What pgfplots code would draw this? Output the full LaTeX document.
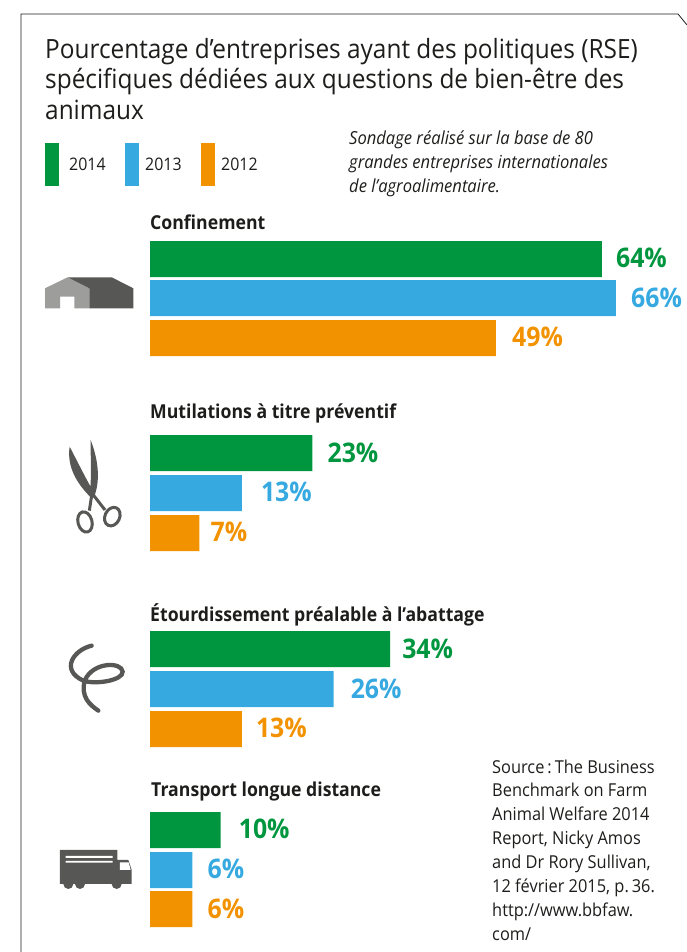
\documentclass[border=0pt]{standalone}
\usepackage{pgfplots}
\pgfplotsset{compat=1.18}
\usepackage{fontspec}
\setmainfont[FakeStretch=0.92]{Open Sans}
\definecolor{cg}{HTML}{00963F}
\definecolor{cb}{HTML}{36A9E1}
\definecolor{co}{HTML}{F39200}
\definecolor{dk}{HTML}{575756}
\definecolor{lt}{HTML}{9D9D9C}
\definecolor{tx}{HTML}{1D1D1B}
\newcommand{\lab}[4]{\node[anchor=base west,inner sep=0pt,text=#4,font=\fontsize{27}{27}\selectfont\bfseries] at (axis cs:#1,#2) [xshift=#3pt] {#1\%};}
\begin{document}
\begin{tikzpicture}[x=1pt,y=1pt]
\begin{axis}[at={(0,0)},anchor=south west,scale only axis,width=687pt,height=952pt,
  xmin=-21.25,xmax=76.06,ymin=0,ymax=952,y dir=reverse,axis lines=none,clip=false,
  xbar,bar shift=0pt,bar width=36pt]
\addplot[draw=none,fill=cg] coordinates {(64,259)(23,453)(34,649)(10,830)};
\addplot[draw=none,fill=cb] coordinates {(66,298)(13,493)(26,689)(6,870)};
\addplot[draw=none,fill=co] coordinates {(49,338)(7,533)(13,729)(6,909)};
\lab{64}{267}{14}{cg}\lab{66}{307}{15}{cb}\lab{49}{346}{16}{co}
\lab{23}{462}{15}{cg}\lab{13}{501}{19}{cb}\lab{7}{541}{11}{co}
\lab{34}{658}{12}{cg}\lab{26}{698}{17}{cb}\lab{13}{737}{14}{co}
\lab{10}{838}{18}{cg}\lab{6}{878}{15}{cb}\lab{6}{918}{15}{co}
\end{axis}
\begin{scope}[shift={(0pt,952pt)},x=1pt,y=-1pt]
\path[use as bounding box] (0,0) rectangle (687,952);
\draw[line width=0.8pt,tx] (21,952) -- (21,14) -- (678,14) -- (687,25);
\def\tl#1#2#3#4{\node[anchor=base west,inner sep=0pt,text=tx,font=\fontsize{#3}{#3}\selectfont] at (#1,#2) {#4};}
\tl{45}{59}{26.5}{Pourcentage d’entreprises ayant des politiques (RSE)}
\tl{45}{88.5}{26.5}{spécifiques dédiées aux questions de bien-être des}
\tl{45}{119.5}{26.5}{animaux}
\fill[cg] (45,143) rectangle (59,186);
\fill[cb] (125,143) rectangle (139,186);
\fill[co] (201,143) rectangle (215,186);
\tl{69}{171}{17.3}{2014}\tl{145}{171}{17.3}{2013}\tl{221}{171}{17.3}{2012}
\tl{349}{144.5}{18}{\itshape Sondage réalisé sur la base de 80}
\tl{349}{168.5}{18}{\itshape grandes entreprises internationales}
\tl{349}{192.5}{18}{\itshape de l’agroalimentaire.}
\tl{150}{229.5}{19.2}{\bfseries Confinement}
\tl{150}{418.5}{19.2}{\bfseries Mutilations à titre préventif}
\tl{150}{622}{19.2}{\bfseries Étourdissement préalable à l’abattage}
\tl{151}{796.5}{19.2}{\bfseries Transport longue distance}
\tl{492}{774}{17.8}{Source\,:\,The Business}
\tl{492}{797}{17.8}{Benchmark on Farm}
\tl{492}{821}{17.8}{Animal Welfare 2014}
\tl{492}{845}{17.8}{Report, Nicky Amos}
\tl{492}{869}{17.8}{and Dr Rory Sullivan,}
\tl{492}{893}{17.8}{12 février 2015, p.\,36.}
\tl{492}{917}{17.8}{http://www.bbfaw.}
\tl{492}{941}{17.8}{com/}
% barn
\fill[lt,even odd rule] (45,308.3) -- (45,288.3) -- (67.7,277.3) -- (89.3,288.3) -- (89.3,308.3) -- (74.3,308.3) -- (74.3,296.7) -- (60,296.7) -- (60,308.3) -- cycle;
\fill[dk] (67.7,277.3) -- (111.7,277.3) -- (133.3,288.3) -- (133.3,308.3) -- (89.3,308.3) -- (89.3,288.3) -- cycle;
\end{scope}
\begin{scope}[shift={(30pt,692pt)},x=0.3333pt,y=-0.3333pt]
% scissors
\fill[dk] (119,560) .. controls (150,620) and (170,660) .. (182,680) .. controls (183,620) and (182,580) .. (182,540) .. controls (205,600) and (212,660) .. (192,712) -- (182,712) .. controls (140,670) and (110,620) .. (119,560) -- cycle;
\draw[dk,line width=3pt] (186,700) -- (178,752) (190,705) -- (225,750);
\draw[dk,line width=3pt,rotate around={15:(165,786)}] (165,786) ellipse (21 and 31);
\draw[dk,line width=3pt,rotate around={-25:(247,770)}] (247,770) ellipse (22 and 29);
\end{scope}
\begin{scope}[shift={(30pt,322pt)},x=0.3333pt,y=-0.3333pt]
% spiral
\draw[dk,line width=4.3pt,line cap=round] (185,47) .. controls (130,60) and (90,120) .. (160,152) .. controls (200,165) and (280,150) .. (278,125) .. controls (275,95) and (190,95) .. (165,150) .. controls (150,200) and (180,225) .. (205,242);
% truck
\fill[dk] (90,660) -- (262,660) -- (262,690) -- (295,690) -- (305,720) -- (305,762) -- (90,762) -- cycle;
\fill[dk] (115,762) circle (15) (150,762) circle (15) (260,762) circle (15);
\fill[white] (107,678) rectangle (248,684) (107,693) rectangle (248,698);
\fill[white] (270,697) -- (296,697) -- (302,720) -- (270,720) -- cycle;
\end{scope}
\end{tikzpicture}
\end{document}
